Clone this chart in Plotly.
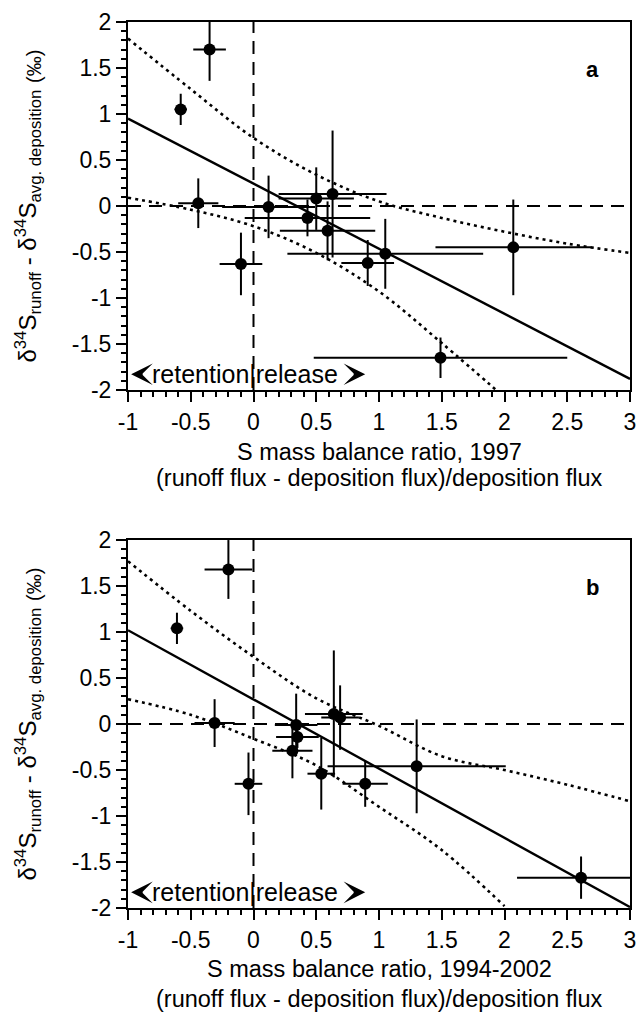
import plotly.graph_objects as go

# ---------------- data ----------------
# Panel a : 1997
a_x = [-0.35, -0.58, -0.44, 0.12, 0.50, 0.63, 0.43, 0.59, -0.10, 0.91, 1.05, 2.07, 1.49]
a_y = [1.70, 1.05, 0.03, -0.01, 0.08, 0.13, -0.13, -0.27, -0.63, -0.62, -0.52, -0.45, -1.65]
a_xerr = [0.13, 0.05, 0.16, 0.37, 0.30, 0.43, 0.50, 0.38, 0.17, 0.21, 0.78, 0.62, 1.01]
a_yerr = [0.34, 0.17, 0.27, 0.34, 0.34, 0.69, 0.20, 0.32, 0.34, 0.25, 0.38, 0.52, 0.22]

# Panel b : 1994-2002
b_x = [-0.20, -0.61, -0.31, 0.34, 0.64, 0.69, 0.35, 0.31, -0.04, 0.54, 0.89, 1.30, 2.61]
b_y = [1.68, 1.04, 0.01, -0.01, 0.11, 0.07, -0.14, -0.29, -0.65, -0.54, -0.65, -0.46, -1.67]
b_xerr = [0.19, 0.05, 0.16, 0.17, 0.23, 0.15, 0.17, 0.16, 0.11, 0.11, 0.18, 0.71, 0.51]
b_yerr = [0.32, 0.17, 0.26, 0.34, 0.69, 0.35, 0.12, 0.30, 0.34, 0.39, 0.25, 0.51, 0.23]

# regression lines (end points) and confidence bands
fit_x = [-1, 3]
a_fit_y = [0.95, -1.88]
b_fit_y = [1.02, -1.99]

band_x = [-1, -0.5, 0, 0.5, 1, 1.5, 2, 2.5, 3]
a_upper = [1.82, 1.27, 0.74, 0.34, 0.05, -0.13, -0.28, -0.41, -0.51]
a_lower_x = [-1, -0.5, 0, 0.5, 1, 1.5, 2]
a_lower = [0.09, -0.04, -0.22, -0.51, -0.93, -1.49, -2.08]
b_upper = [1.77, 1.23, 0.73, 0.28, -0.02, -0.35, -0.50, -0.66, -0.84]
b_lower_x = [-1, -0.5, 0, 0.5, 1, 1.5, 2]
b_lower = [0.27, 0.10, -0.16, -0.45, -0.90, -1.37, -1.98]

x_tickvals = [-1, -0.5, 0, 0.5, 1, 1.5, 2, 2.5, 3]
x_ticktext = ["-1", "-0.5", "0", "0.5", "1", "1.5", "2", "2.5", "3"]
y_tickvals = [-2, -1.5, -1, -0.5, 0, 0.5, 1, 1.5, 2]
y_ticktext = ["-2", "-1.5", "-1", "-0.5", "0", "0.5", "1", "1.5", "2"]

panel_labels = ["a", "b"]
xtitle_line1 = ["S mass balance ratio, 1997", "S mass balance ratio, 1994-2002"]
xtitle_line2 = "(runoff flux - deposition flux)/deposition flux"
ytitle = ("δ<sup>34</sup>S<sub>runoff</sub> - δ<sup>34</sup>S<sub>avg. deposition</sub>"
          " <sub><span style=\"font-size:20px\">(‰)</span></sub>")

FONT = "Arial, Liberation Sans, sans-serif"
BLACK = "black"

fig = go.Figure()

panels = [
    (a_x, a_y, a_xerr, a_yerr, a_fit_y, a_upper, a_lower_x, a_lower, "x", "y"),
    (b_x, b_y, b_xerr, b_yerr, b_fit_y, b_upper, b_lower_x, b_lower, "x2", "y2"),
]

for (px, py, pxe, pye, fy, up, lox, lo, xa, ya) in panels:
    # confidence bands
    fig.add_trace(go.Scatter(x=band_x, y=up, mode="lines", xaxis=xa, yaxis=ya,
                             line=dict(color=BLACK, width=2.6, dash="3px,4px", shape="spline"),
                             showlegend=False, hoverinfo="skip"))
    fig.add_trace(go.Scatter(x=lox, y=lo, mode="lines", xaxis=xa, yaxis=ya,
                             line=dict(color=BLACK, width=2.6, dash="3px,4px", shape="spline"),
                             showlegend=False, hoverinfo="skip"))
    # regression line
    fig.add_trace(go.Scatter(x=fit_x, y=fy, mode="lines", xaxis=xa, yaxis=ya,
                             line=dict(color=BLACK, width=2.4),
                             showlegend=False, hoverinfo="skip"))
    # points with error bars
    fig.add_trace(go.Scatter(x=px, y=py, mode="markers", xaxis=xa, yaxis=ya,
                             marker=dict(color=BLACK, size=12),
                             error_x=dict(type="data", array=pxe, color=BLACK, thickness=2, width=0),
                             error_y=dict(type="data", array=pye, color=BLACK, thickness=2, width=0),
                             showlegend=False))

axis_common = dict(
    showgrid=False, zeroline=False, showline=True, linecolor=BLACK, linewidth=2,
    mirror=True, ticks="outside", ticklen=10, tickwidth=2, tickcolor=BLACK,
    automargin=False,
    tickfont=dict(family=FONT, size=23, color=BLACK),
    minor=dict(dtick=0.1, tick0=0, ticks="outside", ticklen=5, tickwidth=1.5, tickcolor=BLACK),
)

fig.update_layout(
    width=642, height=1018,
    margin=dict(l=128, r=12, t=22, b=110),
    paper_bgcolor="white", plot_bgcolor="white",
    font=dict(family=FONT, color=BLACK),
    xaxis=dict(range=[-1, 3], tickmode="array", tickvals=x_tickvals, ticktext=x_ticktext,
               anchor="y", **axis_common),
    yaxis=dict(range=[-2, 2], tickmode="array", tickvals=y_tickvals, ticktext=y_ticktext,
               domain=[0.5847, 1], anchor="x", **axis_common),
    xaxis2=dict(range=[-1, 3], tickmode="array", tickvals=x_tickvals, ticktext=x_ticktext,
                anchor="y2", **axis_common),
    yaxis2=dict(range=[-2, 2], tickmode="array", tickvals=y_tickvals, ticktext=y_ticktext,
                domain=[0, 0.4153], anchor="x2", **axis_common),
)

shapes = []
for xa, ya in [("x", "y"), ("x2", "y2")]:
    shapes.append(dict(type="line", xref=xa, yref=ya, x0=0, x1=0, y0=-2, y1=2,
                       line=dict(color=BLACK, width=2, dash="13px,8px")))
    shapes.append(dict(type="line", xref=xa, yref=ya, x0=-1, x1=3, y0=0, y1=0,
                       line=dict(color=BLACK, width=2, dash="13px,8px")))
fig.update_layout(shapes=shapes)

ann = []
title_y = [(0.5147, 0.4853), (-0.0685, -0.1025)]
ytitle_y = [0.7923, 0.2077]
for i, (xa, ya) in enumerate([("x", "y"), ("x2", "y2")]):
    ann.append(dict(text="<b>%s</b>" % panel_labels[i], x=2.7, y=1.48, xref=xa, yref=ya,
                    showarrow=False, font=dict(family=FONT, size=22, color=BLACK)))
    ann.append(dict(text=xtitle_line1[i], x=0.5, y=title_y[i][0], xref="paper", yref="paper",
                    showarrow=False, yanchor="middle",
                    font=dict(family=FONT, size=23.5, color=BLACK)))
    ann.append(dict(text=xtitle_line2, x=0.5, y=title_y[i][1], xref="paper", yref="paper",
                    showarrow=False, yanchor="middle",
                    font=dict(family=FONT, size=23.5, color=BLACK)))
    ann.append(dict(text=ytitle, x=-0.2, y=ytitle_y[i], xref="paper", yref="paper",
                    textangle=-90, showarrow=False, xanchor="center", yanchor="middle",
                    font=dict(family=FONT, size=24, color=BLACK)))
    ann.append(dict(text="retention|release", x=-0.065, y=-1.83, xref=xa, yref=ya,
                    showarrow=False, xanchor="center", yanchor="middle",
                    font=dict(family=FONT, size=25, color=BLACK)))
    ann.append(dict(text="", x=-0.975, y=-1.83, ax=-0.88, ay=-1.83, xref=xa, yref=ya,
                    axref=xa, ayref=ya, showarrow=True, arrowhead=3, arrowsize=1.8,
                    arrowwidth=2, arrowcolor=BLACK))
    ann.append(dict(text="", x=0.89, y=-1.83, ax=0.79, ay=-1.83, xref=xa, yref=ya,
                    axref=xa, ayref=ya, showarrow=True, arrowhead=3, arrowsize=1.8,
                    arrowwidth=2, arrowcolor=BLACK))
fig.update_layout(annotations=ann)

fig.write_html(
    "out.html",
    config={"displayModeBar": False},
    post_script=("document.body.style.margin='0px';"
                 "document.body.style.overflow='hidden';"
                 "document.documentElement.style.overflow='hidden';"),
)
